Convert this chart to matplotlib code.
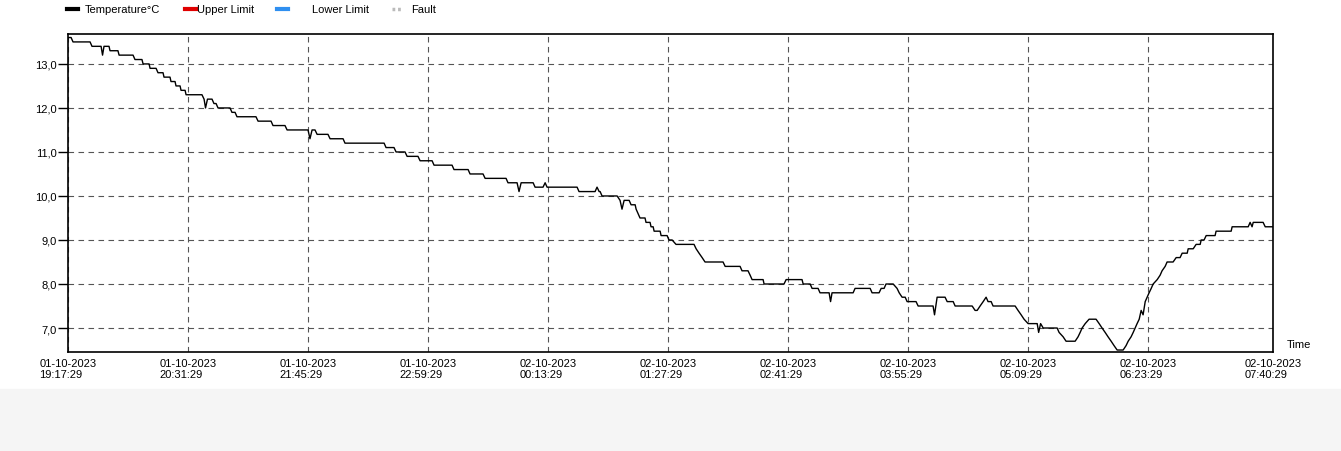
# -*- coding: utf-8 -*-

import numpy as np
import pandas as pd
import matplotlib
matplotlib.use('Agg')
import matplotlib.pyplot as plt
from matplotlib.lines import Line2D
from matplotlib.patches import Rectangle

plt.rcParams['font.family'] = ['Liberation Sans', 'DejaVu Sans']

########################################################################################################################
# Datos: minutos desde el inicio y temperatura (°C)

inicio = '2023-10-01 19:17:29'

minutos = [0, 1.9, 3.1, 13.6, 14.8, 20.4, 21.3, 22.2, 25.3, 25.9, 30.8, 31.5, 40.1, 41.3, 45.6, 46.3, 50.0,
           50.6, 54.3, 55.5, 58.6, 59.2, 62.9, 63.5, 66.0, 66.6, 69.1, 69.7, 72.2, 72.8, 82.6, 83.9, 84.8,
           86.0, 88.8, 90.0, 91.3, 92.5, 99.9, 101.1, 103.0, 104.2, 115.9, 117.2, 125.2, 126.4, 133.8,
           135.1, 148.0, 149.2, 150.5, 152.3, 153.6, 160.3, 161.6, 169.6, 170.8, 194.9, 196.1, 201.0,
           202.3, 207.8, 209.1, 215.8, 217.1, 224.5, 225.7, 236.8, 238.0, 246.7, 247.9, 255.9, 257.2,
           270.1, 271.3, 276.9, 278.1, 279.4, 286.8, 288.0, 292.9, 294.2, 295.4, 313.9, 315.1, 325.0,
           326.2, 327.5, 328.1, 329.3, 338.6, 340.4, 341.6, 342.9, 346.0, 347.2, 349.7, 350.3, 351.5,
           352.7, 355.8, 356.4, 358.9, 359.5, 360.8, 361.4, 365.1, 365.7, 369.4, 370.6, 372.5, 374.9,
           386.0, 387.3, 389.1, 391.0, 392.8, 403.9, 405.2, 414.4, 415.6, 419.3, 420.6, 421.8, 428.6,
           429.2, 441.5, 442.8, 452.6, 453.3, 457.6, 458.8, 462.5, 463.7, 469.3, 470.2, 471.1, 484.1,
           485.3, 494.6, 495.8, 500.1, 501.4, 503.2, 504.4, 508.8, 511.2, 512.5, 514.3, 516.2, 517.4,
           522.9, 524.2, 533.4, 534.3, 535.9, 540.8, 542.1, 545.8, 547.0, 557.5, 559.3, 560.6, 562.4,
           564.3, 566.1, 567.3, 569.2, 570.4, 584.0, 585.8, 587.7, 589.5, 592.0, 597.6, 598.5, 599.7,
           601.3, 609.9, 611.1, 613.6, 615.4, 621.0, 622.8, 624.1, 625.3, 627.2, 629.6, 633.9, 635.8,
           637.6, 639.5, 641.3, 643.2, 645.0, 646.9, 650.6, 652.4, 653.7, 655.5, 656.8, 658.0, 659.2,
           660.5, 661.7, 662.9, 664.2, 665.4, 666.6, 667.9, 669.1, 671.6, 673.4, 674.6, 676.5, 677.7,
           681.4, 683.3, 685.7, 687.0, 690.1, 690.7, 693.8, 695.6, 698.1, 698.7, 700.5, 701.8, 707.3,
           707.9, 717.2, 717.8, 727.7, 728.9, 730.1, 730.8, 736.9, 738.2, 743.0]

temperatura = [13.6, 13.6, 13.5, 13.5, 13.4, 13.4, 13.2, 13.4, 13.4, 13.3, 13.3, 13.2, 13.2, 13.1, 13.1, 13.0, 13.0,
               12.9, 12.9, 12.8, 12.8, 12.7, 12.7, 12.6, 12.6, 12.5, 12.5, 12.4, 12.4, 12.3, 12.3, 12.2, 12.0,
               12.2, 12.2, 12.1, 12.1, 12.0, 12.0, 11.9, 11.9, 11.8, 11.8, 11.7, 11.7, 11.6, 11.6,
               11.5, 11.5, 11.3, 11.5, 11.5, 11.4, 11.4, 11.3, 11.3, 11.2, 11.2, 11.1, 11.1,
               11.0, 11.0, 10.9, 10.9, 10.8, 10.8, 10.7, 10.7, 10.6, 10.6, 10.5, 10.5, 10.4,
               10.4, 10.3, 10.3, 10.1, 10.3, 10.3, 10.2, 10.2, 10.3, 10.2, 10.2, 10.1, 10.1,
               10.2, 10.1, 10.1, 10.0, 10.0, 9.9, 9.7, 9.9, 9.9, 9.8, 9.8, 9.7, 9.6,
               9.5, 9.5, 9.4, 9.4, 9.3, 9.3, 9.2, 9.2, 9.1, 9.1, 9.0, 9.0, 8.9,
               8.9, 8.8, 8.7, 8.6, 8.5, 8.5, 8.4, 8.4, 8.3, 8.3, 8.2, 8.1, 8.1,
               8.0, 8.0, 8.1, 8.1, 8.0, 8.0, 7.9, 7.9, 7.8, 7.8, 7.6, 7.8, 7.8,
               7.9, 7.9, 7.8, 7.8, 7.9, 7.9, 8.0, 8.0, 7.9, 7.8, 7.7, 7.7, 7.6,
               7.6, 7.5, 7.5, 7.3, 7.7, 7.7, 7.6, 7.6, 7.5, 7.5, 7.4, 7.4, 7.5,
               7.6, 7.7, 7.6, 7.6, 7.5, 7.5, 7.4, 7.3, 7.2, 7.1, 7.1, 6.9, 7.1,
               7.0, 7.0, 6.9, 6.8, 6.7, 6.7, 6.8, 6.9, 7.0, 7.1, 7.2, 7.2, 7.1,
               7.0, 6.9, 6.8, 6.7, 6.6, 6.5, 6.5, 6.6, 6.7, 6.8, 6.9, 7.0, 7.1,
               7.2, 7.4, 7.3, 7.6, 7.7, 7.8, 7.9, 8.0, 8.1, 8.2, 8.3, 8.4, 8.5,
               8.5, 8.6, 8.6, 8.7, 8.7, 8.8, 8.8, 8.9, 8.9, 9.0, 9.0, 9.1, 9.1,
               9.2, 9.2, 9.3, 9.3, 9.4, 9.3, 9.4, 9.4, 9.3, 9.3]

# Marcas del eje X (cada 74 minutos, y el final)
ticks_x = ['2023-10-01 19:17:29', '2023-10-01 20:31:29', '2023-10-01 21:45:29', '2023-10-01 22:59:29',
           '2023-10-02 00:13:29', '2023-10-02 01:27:29', '2023-10-02 02:41:29', '2023-10-02 03:55:29',
           '2023-10-02 05:09:29', '2023-10-02 06:23:29', '2023-10-02 07:40:29']
ticks_y = [7.0, 8.0, 9.0, 10.0, 11.0, 12.0, 13.0]

leyenda = ['Temperature°C', 'Upper Limit', 'Lower Limit', 'Fault']
colores = ['#000000', '#e00000', '#2f8ff0', '#bbbbbb']

########################################################################################################################

tiempo = pd.Timestamp(inicio) + pd.to_timedelta(minutos, unit='min')
tx = pd.to_datetime(ticks_x)

fig = plt.figure(figsize=(13.41, 4.52), dpi=100)
fig.patches.append(Rectangle((0, 0), 1, 62 / 452, transform=fig.transFigure, color='#f5f5f5', zorder=0))

ax = fig.add_axes([68 / 1341, 1 - 353 / 452, 1205 / 1341, 318 / 452])
ax.plot(tiempo, temperatura, color='black', lw=1)

ax.set_xlim(tx[0], tx[-1])
ax.set_ylim(6.455, 13.68)

ax.set_xticks(tx)
ax.set_xticklabels([t.strftime('%d-%m-%Y\n%H:%M:%S') for t in tx], fontsize=8, multialignment='left')
ax.set_yticks(ticks_y)
ax.set_yticklabels([('%.1f' % v).replace('.', ',') for v in ticks_y], fontsize=8)

ax.tick_params(axis='x', length=0, pad=4)
ax.tick_params(axis='y', length=7, width=1, pad=1)
ax.grid(True, color='#555555', linestyle=(0, (5, 4)), lw=0.8)
for s in ax.spines.values():
    s.set_linewidth(1.2)

fig.text(1287 / 1341, 1 - 350 / 452, 'Time', fontsize=8, ha='left', va='bottom')

# Leyenda arriba
xs_mark = [67, 185, 277, 392]
xs_text = [85, 197, 312, 411]
for nombre, c, xm, xt in zip(leyenda, colores, xs_mark, xs_text):
    if nombre == 'Fault':
        fig.add_artist(Line2D([xm / 1341, (xm + 11) / 1341], [1 - 10 / 452] * 2, color=c, lw=2.5,
                              ls=(0, (0.8, 0.8))))
    else:
        fig.add_artist(Line2D([xm / 1341, (xm + 11) / 1341], [1 - 10 / 452] * 2, color=c, lw=3))
    fig.text(xt / 1341, 1 - 10 / 452, nombre, fontsize=8, va='center', ha='left')

plt.savefig('out.png', dpi=100)
